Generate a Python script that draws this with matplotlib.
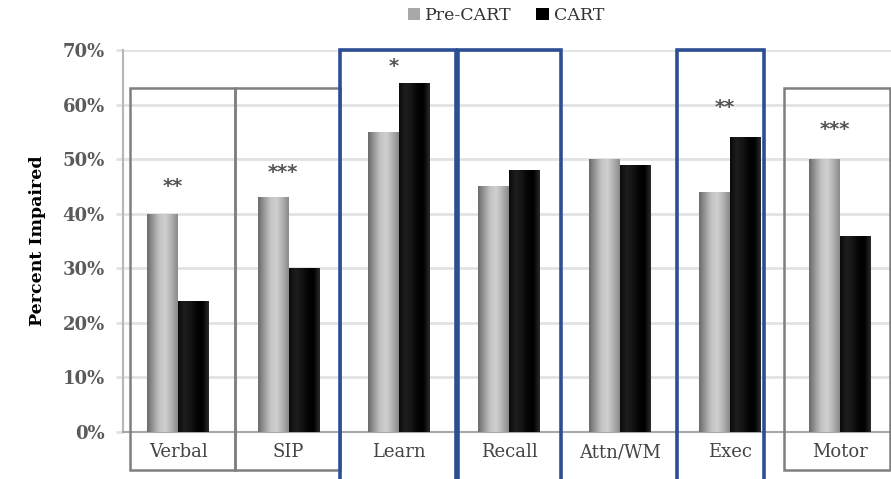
import numpy as np
import matplotlib
matplotlib.use("Agg")
import matplotlib.pyplot as plt
from matplotlib.colors import LinearSegmentedColormap
from matplotlib.patches import Rectangle, Patch

# Cognitive domains and impairment rates (%)
domains = ["Verbal", "SIP", "Learn", "Recall", "Attn/WM", "Exec", "Motor"]
pre_cart = [40, 43, 55, 45, 50, 44, 50]
cart = [24, 30, 64, 48, 49, 54, 36]
stars = ["**", "***", "*", "", "", "**", "***"]
star_y = [45, 47.5, 67, 0, 0, 59.5, 55.5]
series_names = ["Pre-CART", "CART"]
ytick_vals = [0, 10, 20, 30, 40, 50, 60, 70]

# Frame spans along the category axis
gray_bounds = [(-0.44, 0.513), (0.513, 1.466), (5.49, 6.455)]
blue_bounds = [(1.466, 2.52), (2.535, 3.47), (4.52, 5.31)]

fig = plt.figure(figsize=(8.91, 4.79), dpi=100)
ax = fig.add_axes([123 / 891, 47 / 479, 1 - 123 / 891, 382 / 479])

x = np.arange(len(domains))
w = 0.28

pre_cmap = LinearSegmentedColormap.from_list(
    "pre", ["#6a6a6a", "#9a9a9a", "#c4c4c4", "#cfcfcf", "#b0b0b0", "#8a8a8a"])
cart_cmap = LinearSegmentedColormap.from_list(
    "cart", ["#0a0a0a", "#1e1e1e", "#151515", "#050505", "#000000", "#2a2a2a"])

grad = np.linspace(0, 1, 64).reshape(1, -1)

for vals, offs, base, cmap in [(pre_cart, -w / 2, "#a0a0a0", pre_cmap),
                               (cart, w / 2, "#000000", cart_cmap)]:
    bars = ax.bar(x + offs, vals, width=w, color=base, zorder=3, linewidth=0)
    for b in bars:
        x0, y0 = b.get_x(), b.get_y()
        im = ax.imshow(grad, cmap=cmap, aspect="auto", zorder=3.5,
                       extent=(x0, x0 + b.get_width(), y0, y0 + b.get_height()),
                       interpolation="bicubic")
        im.set_clip_path(b)

ax.set_xlim(-0.5, 6.46)
ax.set_ylim(0, 70)

ax.set_yticks(ytick_vals)
ax.set_yticklabels([f"{v}%" for v in ytick_vals], family="DejaVu Serif",
                   fontsize=13, color="#5a5a5a", fontweight="bold")
ax.tick_params(axis="y", length=5, width=2, color="#e2e2e2", pad=8)
ax.set_xticks([])
ax.yaxis.grid(True, color="#e2e2e2", linewidth=2, zorder=0)
ax.set_axisbelow(True)

for s in ["top", "right"]:
    ax.spines[s].set_visible(False)
ax.spines["left"].set_color("#b5b5b5")
ax.spines["left"].set_linewidth(1.5)
ax.spines["bottom"].set_color("#a8a8a8")
ax.spines["bottom"].set_linewidth(1.5)

ax.set_ylabel("Percent Impaired", family="DejaVu Serif", fontsize=12.5,
              fontweight="bold", labelpad=12)

# Domain labels under the axis
for xi, name in zip(x, domains):
    ax.text(xi, -3.7, name, ha="center", va="center", family="DejaVu Serif",
            fontsize=13, color="#444444", clip_on=False)

# Significance markers
for xi, st, sy in zip(x, stars, star_y):
    if st:
        ax.text(xi - 0.05, sy, st, ha="center", va="center", fontsize=14,
                color="#555555", fontweight="bold")

# Frames around domain groups
for a, b in gray_bounds:
    ax.add_patch(Rectangle((a, -7.0), b - a, 70.1, fill=False,
                           edgecolor="#7f7f7f", linewidth=1.8,
                           clip_on=False, zorder=5))
for a, b in blue_bounds:
    ax.add_patch(Rectangle((a, -15.0), b - a, 85.0, fill=False,
                           edgecolor="#2c4f94", linewidth=2.6,
                           clip_on=False, zorder=6))

handles = [Patch(facecolor="#a8a8a8", edgecolor="none"),
           Patch(facecolor="#000000", edgecolor="none")]
leg = fig.legend(handles, series_names, loc="center", ncol=2,
                 bbox_to_anchor=(0.568, 0.968), frameon=False,
                 handlelength=0.7, handleheight=0.7, handletextpad=0.3,
                 columnspacing=1.4,
                 prop={"family": "DejaVu Serif", "size": 12.5})
for t in leg.get_texts():
    t.set_color("#333333")

fig.savefig("out.png", dpi=100)
